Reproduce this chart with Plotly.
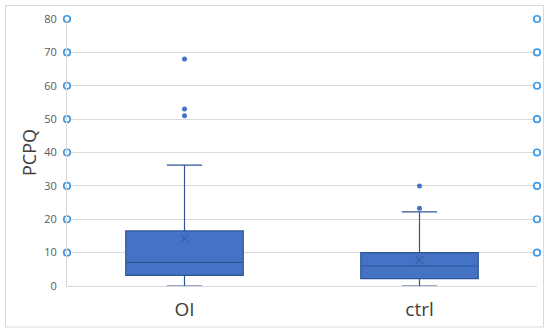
import plotly.graph_objects as go

categories = ["OI", "ctrl"]
q1_vals = [3.2, 2.2]
median_vals = [7.1, 6.0]
q3_vals = [16.5, 10.0]
lower_fence = [0, 0]
upper_fence = [36.2, 22.2]
mean_vals = [14.2, 7.7]
outlier_cat = ["OI", "OI", "OI", "ctrl", "ctrl"]
outlier_vals = [68, 53, 51, 30, 23.3]
y_ticks = [0, 10, 20, 30, 40, 50, 60, 70, 80]
marker_levels = [10, 20, 30, 40, 50, 60, 70, 80]

BLUE = "#4472C4"
DARK = "#2F5597"
CIRC = "#3D9BE9"

fig = go.Figure()
fig.add_trace(go.Box(
    x=categories, q1=q1_vals, median=median_vals, q3=q3_vals,
    lowerfence=lower_fence, upperfence=upper_fence,
    fillcolor=BLUE, line=dict(color=DARK, width=1.2),
    whiskerwidth=0.3, width=0.5, boxpoints=False, showlegend=False,
    hoverinfo="skip",
))
fig.add_trace(go.Scatter(
    x=outlier_cat, y=outlier_vals, mode="markers",
    marker=dict(color=BLUE, size=5), showlegend=False,
))
fig.add_trace(go.Scatter(
    x=categories, y=mean_vals, mode="markers",
    marker=dict(symbol="x-thin", size=8, line=dict(color=DARK, width=1)),
    showlegend=False,
))
# decorative circle markers on both plot edges
for xpos in (0, 1):
    fig.add_trace(go.Scatter(
        x=[xpos] * len(marker_levels), y=marker_levels, mode="markers",
        xaxis="x2", cliponaxis=False,
        marker=dict(symbol="circle", size=6.5, color="white",
                    line=dict(color=CIRC, width=1.7)),
        showlegend=False,
    ))

fig.update_layout(
    width=550, height=335,
    margin=dict(l=67, r=13, t=19, b=49),
    paper_bgcolor="white", plot_bgcolor="white",
    font=dict(family="Open Sans, Noto Sans, sans-serif", color="#595959"),
    xaxis=dict(
        type="category", range=[-0.5, 1.5], showgrid=False,
        showline=True, linecolor="#D9D9D9", linewidth=1,
        tickfont=dict(size=19, color="#404040"),
        ticks="outside", ticklen=6, tickcolor="rgba(0,0,0,0)",
        zeroline=False,
    ),
    xaxis2=dict(range=[0, 1], overlaying="x", visible=False, fixedrange=True),
    yaxis=dict(
        range=[0, 80], tickvals=y_ticks, showgrid=True, gridcolor="#D9D9D9",
        gridwidth=1, zeroline=False, showline=True, linecolor="#D9D9D9",
        tickfont=dict(size=11, color="#595959"),
        ticks="outside", ticklen=7, tickcolor="rgba(0,0,0,0)",
        title=dict(text="PCPQ", font=dict(size=18, color="#404040"), standoff=2),
    ),
    shapes=[dict(
        type="rect", xref="paper", yref="paper",
        x0=(5.5 - 67) / 470, x1=(543.5 - 67) / 470,
        y0=(286 - 327) / 267, y1=(286 - 5.5) / 267,
        line=dict(color="#D9D9D9", width=1), fillcolor="rgba(0,0,0,0)", layer="below",
    )],
)

fig.write_html(
    "out.html",
    config={"displayModeBar": False},
    post_script="document.body.style.margin='0';document.body.style.overflow='hidden';",
)
